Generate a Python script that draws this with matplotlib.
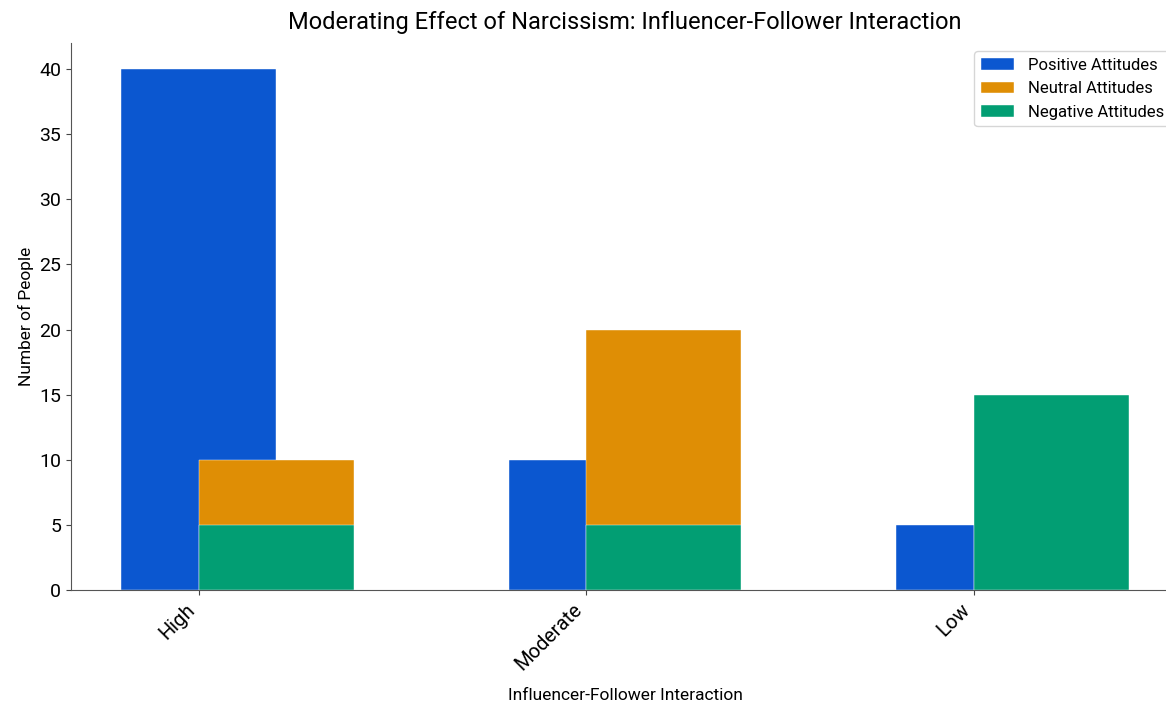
import numpy as np
import matplotlib.pyplot as plt

plt.rcParams['font.family'] = ['Roboto', 'DejaVu Sans']

categories = ["High", "Moderate", "Low"]
positive = [40, 10, 5]
neutral = [10, 20, 5]
negative = [5, 5, 15]

x = np.arange(len(categories))
w = 0.4

fig = plt.figure(figsize=(11.66, 7.01), dpi=100)
ax = fig.add_axes([71/1166, 111/701, (1179-71)/1166, (590-43)/701])

# positive sits on the tick, the other two are shifted half a bar to the right
ax.bar(x, positive, w, color="#0b57d0", edgecolor="#ffffff", linewidth=0.3, label="Positive Attitudes")
ax.bar(x + w/2, neutral, w, color="#df8e05", edgecolor="#ffffff", linewidth=0.3, label="Neutral Attitudes")
ax.bar(x + w/2, negative, w, color="#029e73", edgecolor="#ffffff", linewidth=0.3, label="Negative Attitudes")

ax.set_xlim(-0.33, 2.53)
ax.set_ylim(0, 42)
ax.set_xticks(x)
ax.set_xticklabels(categories, rotation=45, ha="right", fontsize=14.5)
ax.tick_params(axis="y", labelsize=14)
ax.tick_params(colors="#444444", labelcolor="black")

for s in ["top", "right"]:
    ax.spines[s].set_visible(False)
for s in ["left", "bottom"]:
    ax.spines[s].set_color("#555555")

ax.set_title("Moderating Effect of Narcissism: Influencer-Follower Interaction", fontsize=17, pad=10)
ax.set_xlabel("Influencer-Follower Interaction", fontsize=12.5, labelpad=10)
ax.set_ylabel("Number of People", fontsize=12.5)
ax.legend(loc="upper right", fontsize=12, fancybox=True)

fig.savefig("out.png", dpi=100)
